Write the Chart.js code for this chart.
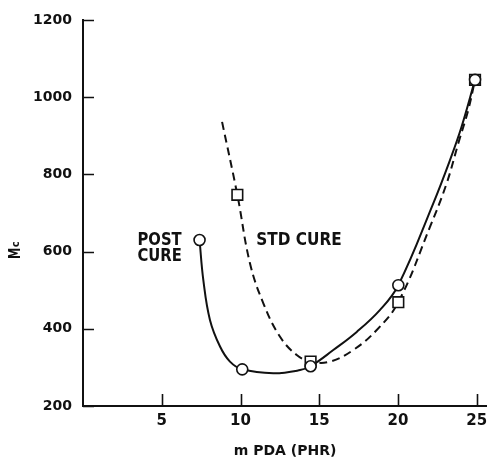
<!DOCTYPE html>
<html>
<head>
<meta charset="utf-8">
<script src="https://cdn.jsdelivr.net/npm/chart.js@4/dist/chart.umd.min.js"></script>
<style>
  html, body { margin: 0; padding: 0; background: #fff; }
  #wrap { width: 487px; height: 460px; }
</style>
</head>
<body>
<div id="wrap"><canvas id="c" width="487" height="460"></canvas></div>
<script>
// Crosslink density: molecular weight between crosslinks vs. mPDA loading
const xTicks = [5, 10, 15, 20, 25];
const yTicks = [200, 400, 600, 800, 1000, 1200];

// Measured points
const postCureX = [7.4, 10.11, 14.45, 20.02, 24.89];
const postCureY = [630, 295, 303, 513, 1045];
const stdCureX  = [9.8, 14.45, 20.02, 24.89];
const stdCureY  = [747, 315, 469, 1045];

// Hand-drawn trend curves through the points
const postCurveX = [7.4, 7.64, 8.06, 8.7, 9.33, 10.11, 12.08, 13.78, 14.45, 15.89, 17.38, 18.86, 20.02, 22.24, 23.3, 24.04, 24.89];
const postCurveY = [630, 526, 423, 354, 315, 295, 285, 293, 303, 345, 392, 449, 513, 725, 837, 924, 1045];
const stdCurveX  = [8.83, 9.8, 10.6, 11.45, 12.5, 13.57, 14.45, 15.68, 17.16, 18.65, 20.02, 22.03, 23.09, 23.83, 24.46, 24.89];
const stdCurveY  = [936, 747, 570, 466, 380, 332, 315, 315, 345, 397, 469, 664, 777, 881, 967, 1045];

const pts = (xs, ys) => xs.map((x, i) => ({ x: x, y: ys[i] }));

const FONT = "'DejaVu Sans', sans-serif";
const INK = '#111';

// Narrow, tall lettering for the in-plot labels
function narrowText(ctx, text, px, py, size, squeeze) {
  ctx.save();
  ctx.translate(px, py);
  ctx.scale(squeeze, 1);
  ctx.font = 'bold ' + size + 'px ' + FONT;
  ctx.fillText(text, 0, 0);
  ctx.restore();
}

// Inward tick marks, curve labels and the y-axis title
const decor = {
  id: 'decor',
  afterDraw(chart) {
    const { ctx, scales: { x, y } } = chart;
    ctx.save();
    ctx.strokeStyle = INK;
    ctx.lineWidth = 1.6;
    ctx.beginPath();
    const x0 = x.getPixelForValue(0);
    yTicks.forEach(v => {
      const py = Math.round(y.getPixelForValue(v)) + 0.5;
      ctx.moveTo(x0, py);
      ctx.lineTo(x0 + 11, py);
    });
    const y0 = y.getPixelForValue(200);
    xTicks.forEach(v => {
      const px = Math.round(x.getPixelForValue(v)) + 0.5;
      ctx.moveTo(px, y0);
      ctx.lineTo(px, y0 - 12);
    });
    ctx.stroke();

    ctx.fillStyle = INK;
    ctx.textAlign = 'left';
    ctx.textBaseline = 'alphabetic';
    narrowText(ctx, 'POST', x.getPixelForValue(3.46), y.getPixelForValue(617), 17, 0.87);
    narrowText(ctx, 'CURE', x.getPixelForValue(3.46), y.getPixelForValue(576), 17, 0.87);
    narrowText(ctx, 'STD CURE', x.getPixelForValue(11.0), y.getPixelForValue(617), 17, 0.9);

    // y-axis title "Mc", reading upward
    ctx.translate(20, 259);
    ctx.rotate(-Math.PI / 2);
    narrowText(ctx, 'M', 0, 0, 15, 0.75);
    ctx.font = 'bold 15px ' + FONT;
    const mw = ctx.measureText('M').width * 0.75;
    narrowText(ctx, 'c', mw + 0.5, -1, 11, 0.9);
    ctx.restore();
  }
};

new Chart(document.getElementById('c'), {
  type: 'scatter',
  data: {
    datasets: [
      {
        label: 'STD CURE',
        data: pts(stdCureX, stdCureY),
        showLine: false,
        pointStyle: 'rect',
        pointRadius: 7.5,
        pointBorderWidth: 1.6,
        pointBorderColor: INK,
        pointBackgroundColor: '#fff',
        clip: false,
        order: 1
      },
      {
        label: 'POST CURE',
        data: pts(postCureX, postCureY),
        showLine: false,
        pointStyle: 'circle',
        pointRadius: 5.5,
        pointBorderWidth: 1.6,
        pointBorderColor: INK,
        pointBackgroundColor: '#fff',
        clip: false,
        order: 0
      },
      {
        label: 'POST CURE curve',
        data: pts(postCurveX, postCurveY),
        showLine: true,
        pointRadius: 0,
        borderColor: INK,
        borderWidth: 2,
        tension: 0.4,
        order: 3
      },
      {
        label: 'STD CURE curve',
        data: pts(stdCurveX, stdCurveY),
        showLine: true,
        pointRadius: 0,
        borderColor: INK,
        borderWidth: 2,
        borderDash: [8, 5],
        tension: 0.4,
        order: 2
      }
    ]
  },
  options: {
    responsive: false,
    animation: false,
    events: [],
    layout: { autoPadding: false, padding: { top: 20, right: 0, left: 0, bottom: 0 } },
    plugins: { legend: { display: false }, tooltip: { enabled: false } },
    scales: {
      x: {
        type: 'linear',
        min: 0,
        max: 25.65,
        grid: { display: false, drawTicks: false },
        border: { display: true, color: INK, width: 2 },
        afterBuildTicks(s) { s.ticks = xTicks.map(v => ({ value: v })); },
        afterFit(s) { s.height = 54; s.paddingLeft = 0; s.paddingRight = 0; },
        ticks: { color: INK, font: { family: FONT, size: 15, weight: 'bold' }, padding: 6, maxRotation: 0, autoSkip: false },
        title: {
          display: true,
          text: 'm PDA (PHR)',
          color: INK,
          font: { family: FONT, size: 14, weight: 'bold' },
          padding: { top: 9, bottom: 0 }
        }
      },
      y: {
        type: 'linear',
        min: 200,
        max: 1200,
        grid: { display: false, drawTicks: false },
        border: { display: true, color: INK, width: 2 },
        afterBuildTicks(s) { s.ticks = yTicks.map(v => ({ value: v })); },
        afterFit(s) { s.width = 83; s.paddingTop = 0; s.paddingBottom = 0; },
        ticks: {
          color: INK,
          font: { family: FONT, size: 14, weight: 'bold' },
          padding: 11,
          callback: v => String(v)
        }
      }
    }
  },
  plugins: [decor]
});
</script>
</body>
</html>
